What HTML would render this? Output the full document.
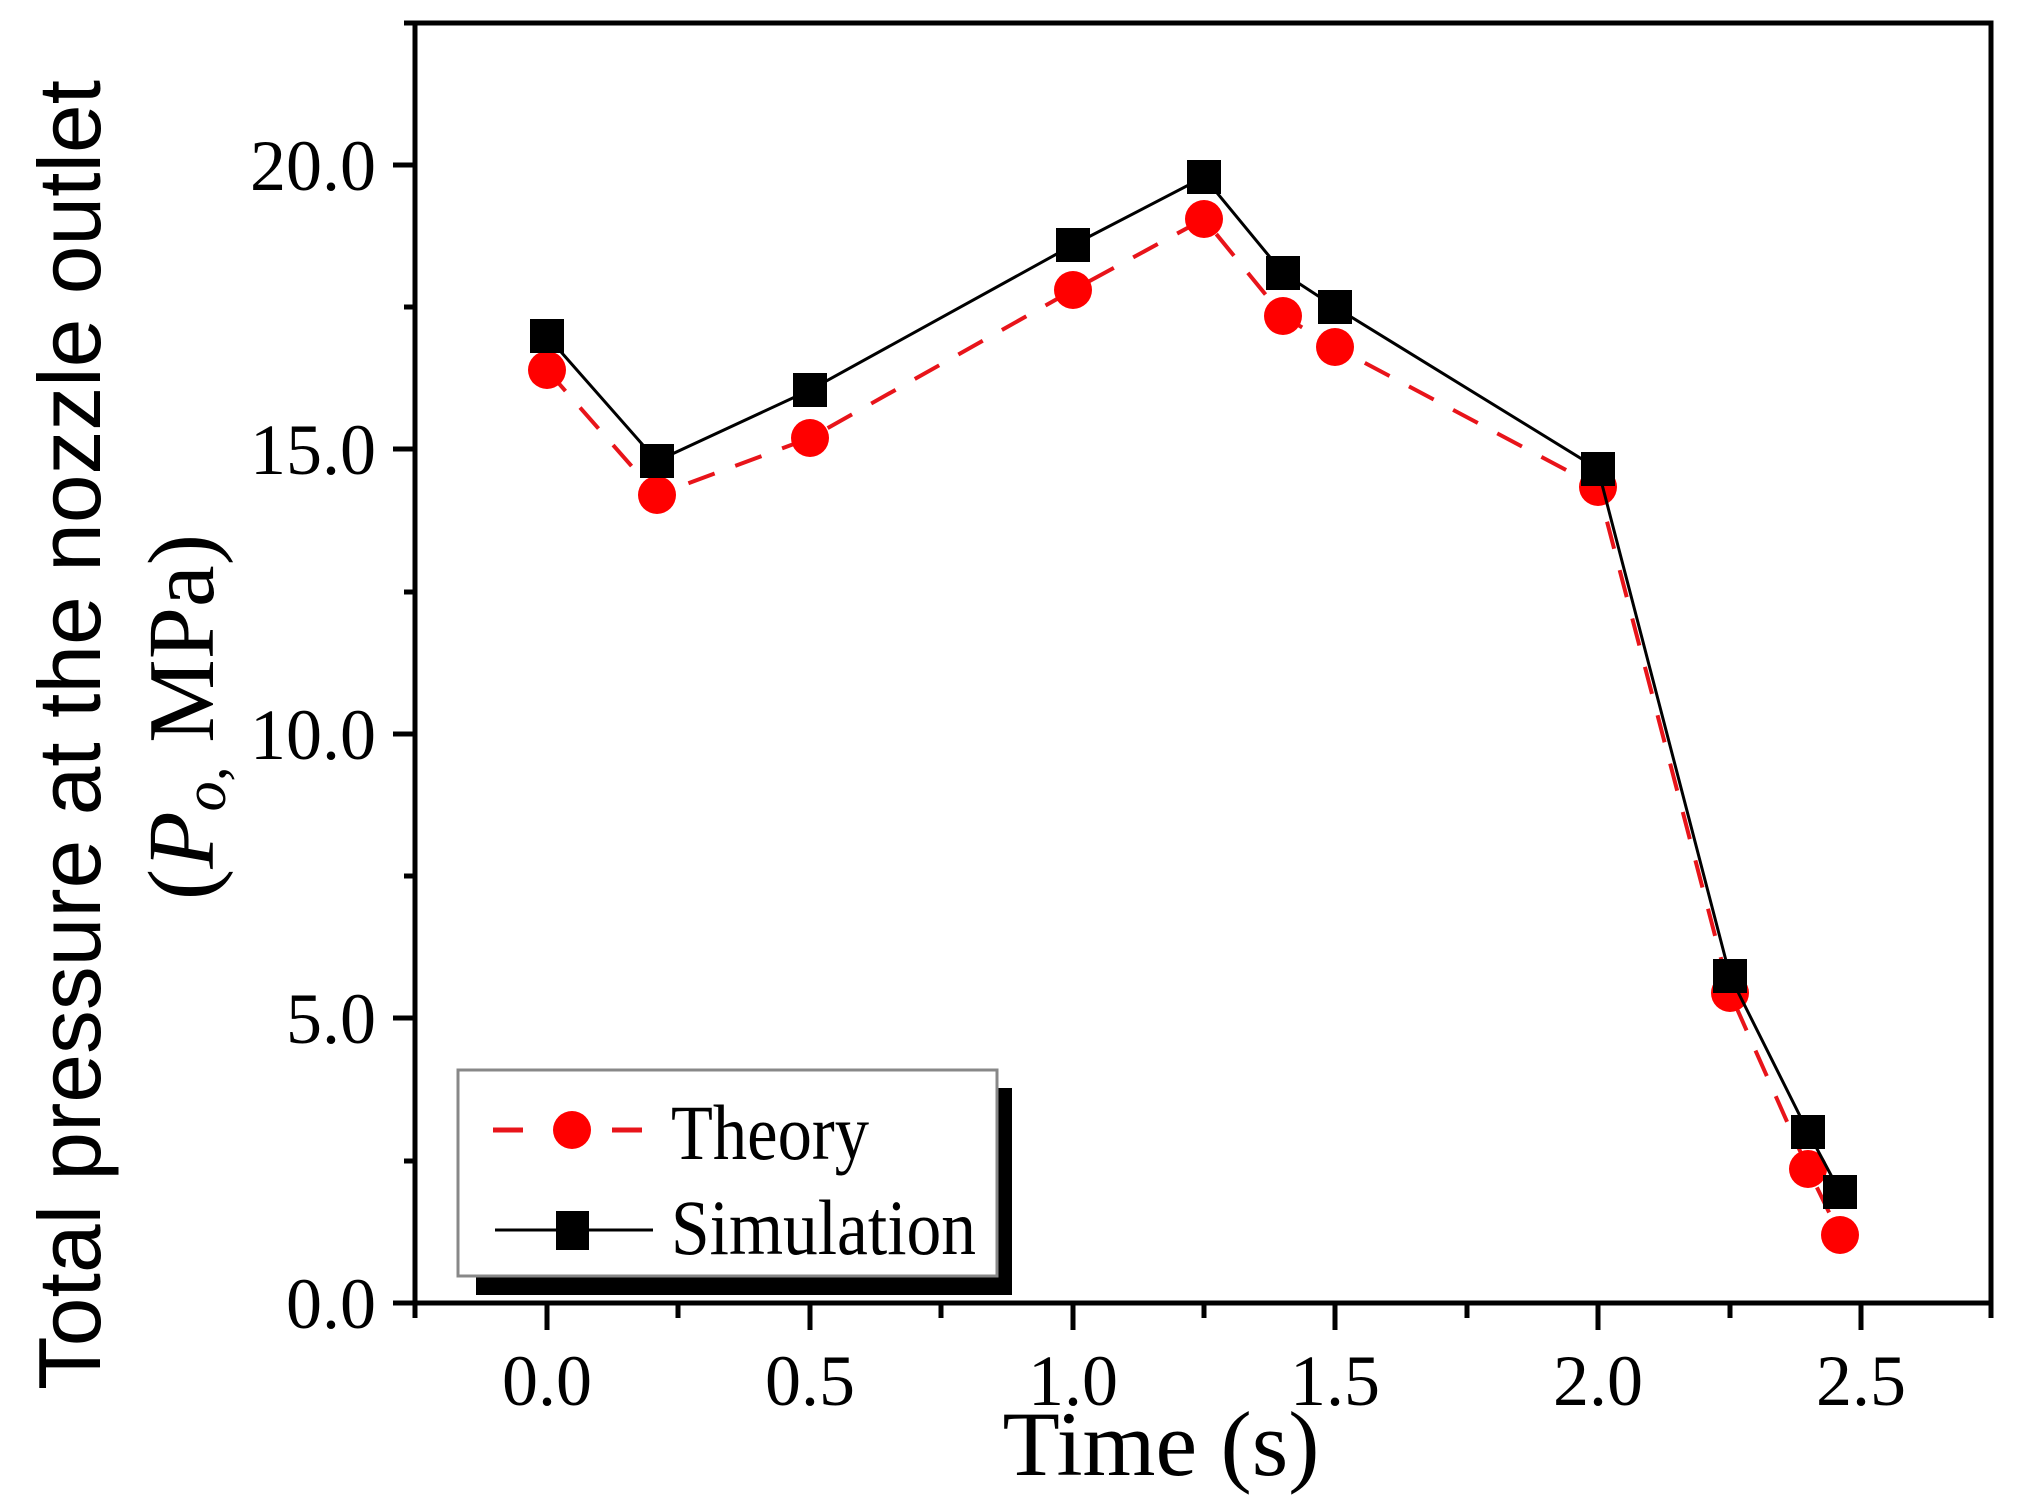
<!DOCTYPE html>
<html><head><meta charset="utf-8"><style>html,body{margin:0;padding:0;background:#fff}svg{display:block}</style></head>
<body>
<svg width="2019" height="1511" viewBox="0 0 2019 1511" xmlns="http://www.w3.org/2000/svg" font-family="Liberation Serif, serif">
<rect width="2019" height="1511" fill="#fff"/>
<path d="M415 23 H1991 V1303 H415 Z" fill="none" stroke="#000" stroke-width="5"/>
<g stroke="#000" stroke-width="5">
<line x1="415" y1="1303" x2="415" y2="1318"/>
<line x1="547" y1="1303" x2="547" y2="1330"/>
<line x1="678" y1="1303" x2="678" y2="1318"/>
<line x1="810" y1="1303" x2="810" y2="1330"/>
<line x1="941" y1="1303" x2="941" y2="1318"/>
<line x1="1073" y1="1303" x2="1073" y2="1330"/>
<line x1="1204" y1="1303" x2="1204" y2="1318"/>
<line x1="1335" y1="1303" x2="1335" y2="1330"/>
<line x1="1467" y1="1303" x2="1467" y2="1318"/>
<line x1="1598" y1="1303" x2="1598" y2="1330"/>
<line x1="1730" y1="1303" x2="1730" y2="1318"/>
<line x1="1861" y1="1303" x2="1861" y2="1330"/>
<line x1="1991" y1="1303" x2="1991" y2="1318"/>
<line x1="415" y1="1303" x2="393" y2="1303"/>
<line x1="415" y1="1161" x2="404" y2="1161"/>
<line x1="415" y1="1018" x2="393" y2="1018"/>
<line x1="415" y1="876" x2="404" y2="876"/>
<line x1="415" y1="734" x2="393" y2="734"/>
<line x1="415" y1="592" x2="404" y2="592"/>
<line x1="415" y1="449" x2="393" y2="449"/>
<line x1="415" y1="307" x2="404" y2="307"/>
<line x1="415" y1="165" x2="393" y2="165"/>
<line x1="415" y1="23" x2="404" y2="23"/>
</g>
<g font-size="72" text-anchor="middle" fill="#000">
<text x="547" y="1405">0.0</text>
<text x="810" y="1405">0.5</text>
<text x="1073" y="1405">1.0</text>
<text x="1335" y="1405">1.5</text>
<text x="1598" y="1405">2.0</text>
<text x="1861" y="1405">2.5</text>
</g>
<g font-size="72" text-anchor="end" fill="#000">
<text x="376" y="1328">0.0</text>
<text x="376" y="1043">5.0</text>
<text x="376" y="759">10.0</text>
<text x="376" y="474">15.0</text>
<text x="376" y="190">20.0</text>
</g>
<text x="1161" y="1475" font-size="92" text-anchor="middle" textLength="317" lengthAdjust="spacingAndGlyphs">Time (s)</text>
<text transform="translate(100,735) rotate(-90)" font-size="88" text-anchor="middle" font-family="Liberation Sans, sans-serif" textLength="1310" lengthAdjust="spacingAndGlyphs">Total pressure at the nozzle outlet</text>
<text transform="translate(213,717) rotate(-90)" font-size="94" text-anchor="middle">(<tspan font-style="italic">P</tspan><tspan font-style="italic" font-size="60" dy="12">o,</tspan><tspan dy="-12"> MPa)</tspan></text>
<polyline fill="none" stroke="#e8141a" stroke-width="4" stroke-dasharray="28,22" points="547,370 657,495 810,438 1073,290 1204,219 1283,316 1335,347 1598,487 1730,993 1808,1169 1840,1235"/>
<g fill="#ff0000">
<circle cx="547" cy="370" r="19"/><circle cx="657" cy="495" r="19"/><circle cx="810" cy="438" r="19"/>
<circle cx="1073" cy="290" r="19"/><circle cx="1204" cy="219" r="19"/><circle cx="1283" cy="316" r="19"/>
<circle cx="1335" cy="347" r="19"/><circle cx="1598" cy="487" r="19"/><circle cx="1730" cy="993" r="19"/>
<circle cx="1808" cy="1169" r="19"/><circle cx="1840" cy="1235" r="19"/>
</g>
<polyline fill="none" stroke="#000" stroke-width="3" points="547,336 657,461 810,390 1073,245 1204,177 1283,273 1335,307 1598,469 1730,976 1808,1132 1840,1192"/>
<g fill="#000">
<rect x="530" y="319" width="34" height="34"/><rect x="640" y="444" width="34" height="34"/><rect x="793" y="373" width="34" height="34"/>
<rect x="1056" y="228" width="34" height="34"/><rect x="1187" y="160" width="34" height="34"/><rect x="1266" y="256" width="34" height="34"/>
<rect x="1318" y="290" width="34" height="34"/><rect x="1581" y="452" width="34" height="34"/><rect x="1713" y="959" width="34" height="34"/>
<rect x="1791" y="1115" width="34" height="34"/><rect x="1823" y="1175" width="34" height="34"/>
</g>
<rect x="476" y="1088" width="536" height="207" fill="#000"/>
<rect x="458" y="1070" width="539" height="206" fill="#fff" stroke="#888" stroke-width="3"/>
<line x1="493" y1="1130" x2="523" y2="1130" stroke="#e8141a" stroke-width="5"/>
<line x1="612" y1="1130" x2="642" y2="1130" stroke="#e8141a" stroke-width="5"/>
<circle cx="572" cy="1130" r="19" fill="#ff0000"/>
<line x1="495" y1="1230" x2="653" y2="1230" stroke="#000" stroke-width="3"/>
<rect x="556" y="1211" width="33" height="39" fill="#000"/>
<text x="671" y="1159" font-size="78" textLength="198" lengthAdjust="spacingAndGlyphs">Theory</text>
<text x="671" y="1254" font-size="78" textLength="305" lengthAdjust="spacingAndGlyphs">Simulation</text>
</svg>
</body></html>
